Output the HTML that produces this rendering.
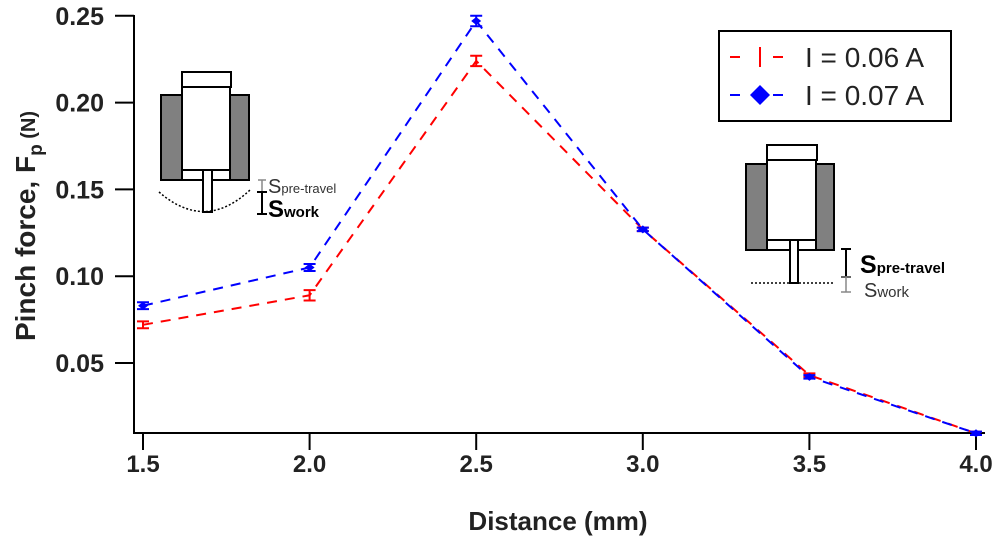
<!DOCTYPE html>
<html><head><meta charset="utf-8"><style>
html,body{margin:0;padding:0;background:#fff}
svg{display:block;font-family:"Liberation Sans",Arial,sans-serif}
</style></head><body>
<svg id="chart" width="1000" height="548" viewBox="0 0 1000 548">
<g id="axes"></g>
<g id="series"></g>

<g stroke="#000" stroke-width="2">
  <rect x="161" y="95" width="88" height="85" fill="#808080"/>
  <rect x="182" y="72" width="49" height="15" fill="#fff"/>
  <rect x="182" y="87" width="48" height="83" fill="#fff"/>
  <rect x="182" y="170" width="48" height="10" fill="#fff"/>
  <rect x="203" y="170" width="9" height="42" fill="#fff"/>
  <path d="M159,192 Q205,232 250,190" fill="none" stroke-dasharray="2,2" stroke-width="1.5"/>
  <path d="M258,180h8M262,180v12M258,192h8" stroke="#888" stroke-width="1.5"/>
  <path d="M257,192h10M262,192v22M257,214h10" stroke-width="2"/>
</g>
<text x="268" y="193" font-size="20" fill="#333">S<tspan font-size="13">pre-travel</tspan></text>
<text x="268" y="217" font-size="24" font-weight="bold">S<tspan font-size="15">work</tspan></text>

<g stroke="#000" stroke-width="2">
  <rect x="746" y="164" width="88" height="86" fill="#808080"/>
  <rect x="767" y="145" width="50" height="15" fill="#fff"/>
  <rect x="767" y="160" width="49" height="80" fill="#fff"/>
  <rect x="767" y="240" width="49" height="10" fill="#fff"/>
  <rect x="790" y="240" width="8" height="43" fill="#fff"/>
  <path d="M751,283h84" fill="none" stroke-dasharray="2,2" stroke-width="1.5"/>
  <path d="M841,249h10M846,249v28M841,277h10" stroke-width="2"/>
  <path d="M841,277h10M846,277v15M841,292h10" stroke="#888" stroke-width="1.5"/>
</g>
<text x="860" y="273" font-size="25" font-weight="bold">S<tspan font-size="15">pre-travel</tspan></text>
<text x="864" y="297" font-size="20" fill="#333">S<tspan font-size="15">work</tspan></text>

<g>
  <rect x="719" y="31" width="232" height="90" fill="#fff" stroke="#000" stroke-width="2"/>
  <path d="M730,57h10M773,57h10" stroke="red" stroke-width="2"/>
  <path d="M760,47v20" stroke="red" stroke-width="2"/>
  <text x="805" y="67" font-size="28" fill="#222">I = 0.06 A</text>
  <path d="M730,95h10M773,95h10" stroke="blue" stroke-width="2"/>
  <path d="M760,85l10,10l-10,10l-10,-10z" fill="blue"/>
  <text x="805" y="105" font-size="28" fill="#222">I = 0.07 A</text>
</g>

<text x="558" y="530" font-size="26" font-weight="bold" text-anchor="middle" fill="#222">Distance (mm)</text>
<text transform="translate(35,226) rotate(-90)" font-size="28" font-weight="bold" text-anchor="middle" fill="#222">Pinch force, F<tspan font-size="19" dy="7">p</tspan><tspan font-size="20" dy="-7"> (N)</tspan></text>
</svg>
<script>
const xValues=[1.5,2.0,2.5,3.0,3.5,4.0];
const red06=[0.072,0.089,0.224,0.127,0.043,0.0095];
const red06Err=[0.002,0.003,0.003,0.001,0.001,0.001];
const blue07=[0.083,0.105,0.247,0.127,0.042,0.0095];
const blue07Err=[0.002,0.002,0.003,0.001,0.001,0.001];
const xTicks=[1.5,2.0,2.5,3.0,3.5,4.0];
const xTickLabels=["1.5","2.0","2.5","3.0","3.5","4.0"];
const yTicks=[0.05,0.10,0.15,0.20,0.25];
const yTickLabels=["0.05","0.10","0.15","0.20","0.25"];

const NS="http://www.w3.org/2000/svg";
const xs=v=>143+(v-1.5)*(976-143)/2.5;
const ys=v=>363-(v-0.05)*(86.8/0.05);
function mk(tag,attrs,parent){const e=document.createElementNS(NS,tag);for(const k in attrs)e.setAttribute(k,attrs[k]);parent.appendChild(e);return e;}
const ax=document.getElementById('axes');
let l=mk('line',{x1:134,y1:15,x2:134,y2:434,stroke:'#000','stroke-width':2},ax);


l=mk('line',{x1:133,y1:433,x2:985,y2:433,stroke:'#000','stroke-width':2},ax);


yTicks.forEach((v,i)=>{
  const t=mk('line',{x1:115,x2:134,y1:ys(v),y2:ys(v),stroke:'#000','stroke-width':2},ax);
  
  
  const tx=mk('text',{x:104,y:ys(v)+9,'font-size':25,'font-weight':'bold','text-anchor':'end',fill:'#222'},ax);
  tx.textContent=yTickLabels[i];
  
  
});
xTicks.forEach((v,i)=>{
  const t=mk('line',{x1:xs(v),x2:xs(v),y1:433,y2:450,stroke:'#000','stroke-width':2},ax);
  
  
  const tx=mk('text',{x:xs(v),y:472,'font-size':24,'font-weight':'bold','text-anchor':'middle',fill:'#222'},ax);
  tx.textContent=xTickLabels[i];
  
  
});
const sg=document.getElementById('series');
function series(vals,errs,color,name,diamond){
  const g=mk('g',{},sg);
  
  
  const pts=xValues.map((x,i)=>xs(x)+','+ys(vals[i])).join(' ');
  const p=mk('polyline',{points:pts,fill:'none',stroke:color,'stroke-width':2,'stroke-dasharray':'10,8'},g);
  
  
  xValues.forEach((x,i)=>{
    const cx=xs(x),cy=ys(vals[i]),e=errs[i]*86.8/0.05;
    const eb=mk('path',{d:`M${cx-6},${cy-e}h12M${cx},${cy-e}V${cy+e}M${cx-6},${cy+e}h12`,stroke:color,'stroke-width':2,fill:'none'},g);
    
    
    if(diamond){
      const d=mk('path',{d:`M${cx},${cy-4}l5,4l-5,4l-5,-4z`,fill:color},g);
      
      
    }
  });
}
series(red06,red06Err,'red','series-006a',false);
series(blue07,blue07Err,'blue','series-007a',true);
</script>
</body></html>
